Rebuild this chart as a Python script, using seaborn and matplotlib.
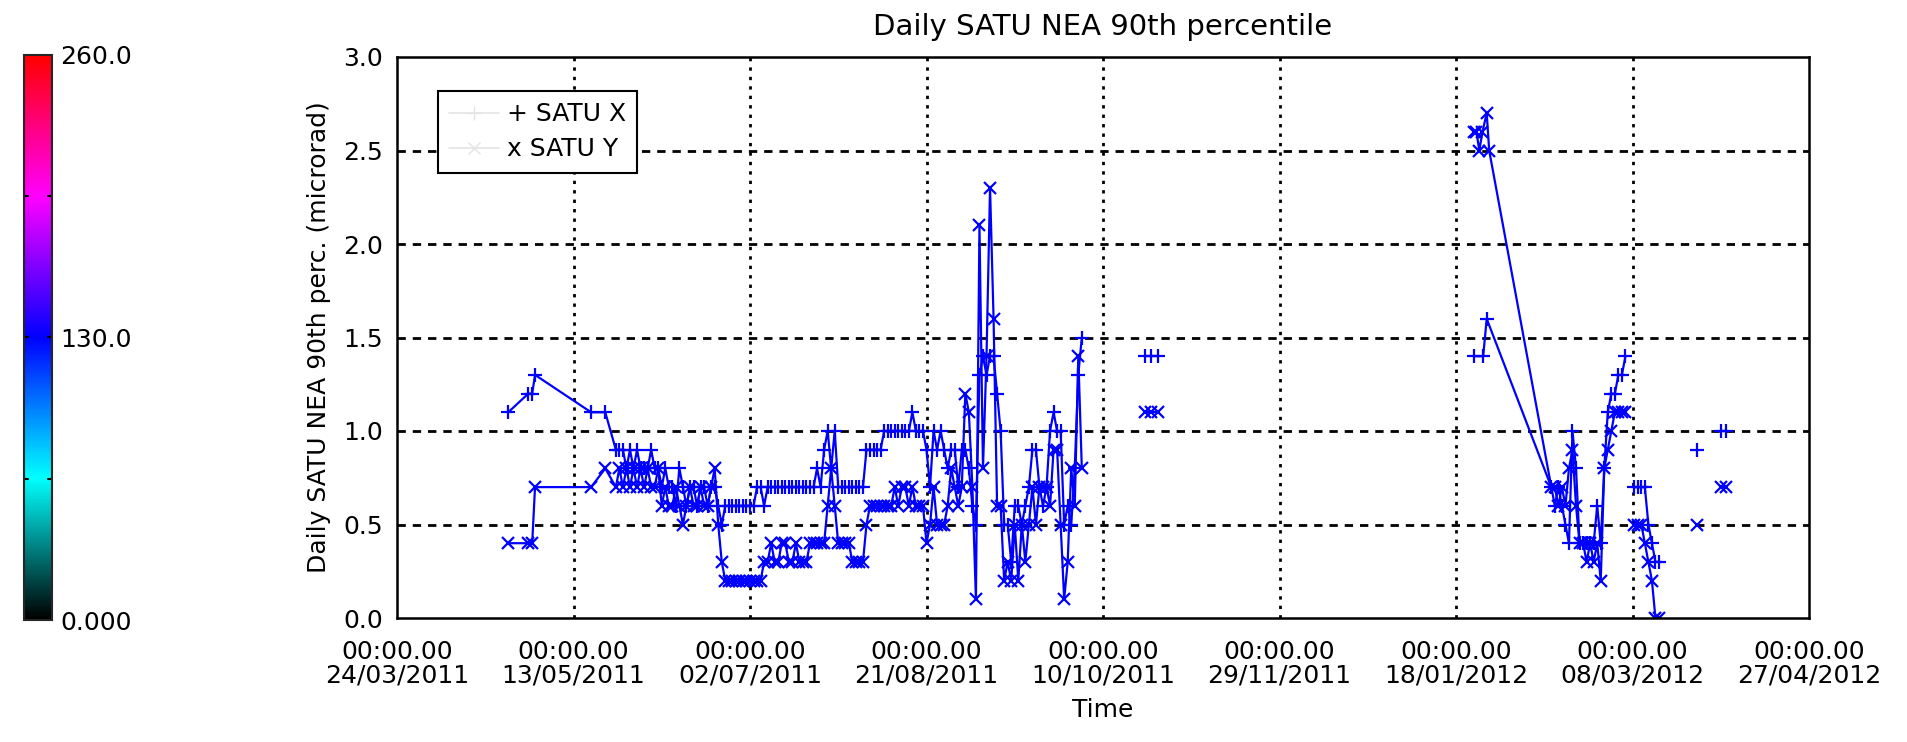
import numpy as np
import pandas as pd
import matplotlib
matplotlib.use("Agg")
import matplotlib.pyplot as plt
import seaborn as sns
from matplotlib.colors import LinearSegmentedColormap, Normalize
from matplotlib.colorbar import ColorbarBase
from matplotlib.lines import Line2D

# ---------------- data ----------------
start_date = "2011-03-24"
tick_dates = ["2011-03-24", "2011-05-13", "2011-07-02", "2011-08-21", "2011-10-10",
              "2011-11-29", "2012-01-18", "2012-03-08", "2012-04-27"]
y_ticks = [0.0, 0.5, 1.0, 1.5, 2.0, 2.5, 3.0]
cbar_ticks = [0.0, 130.0, 260.0]
cbar_labels = ["0.000", "130.0", "260.0"]

# early sparse points (days since start)
early_days = [31.5, 37.2, 38.3, 39.1, 55.0, 59.0]
early_x = [1.1, 1.2, 1.2, 1.3, 1.1, 1.1]
early_y = [0.4, 0.4, 0.4, 0.7, 0.7, 0.8]

# daily values from day 62 to day 194
daily_first_day = 62
daily_x = [0.9, 0.9, 0.9, 0.8, 0.9, 0.8, 0.9, 0.8, 0.8, 0.8,
           0.9, 0.8, 0.8, 0.7, 0.8, 0.7, 0.7, 0.6, 0.8, 0.7,
           0.6, 0.7, 0.7, 0.6, 0.7, 0.7, 0.6, 0.7, 0.7, 0.6,
           0.5, 0.6, 0.6, 0.6, 0.6, 0.6, 0.6, 0.6, 0.6,
           0.6, 0.7, 0.7, 0.6, 0.7, 0.7, 0.7, 0.7, 0.7, 0.7,
           0.7, 0.7, 0.7, 0.7, 0.7, 0.7, 0.7, 0.7, 0.8, 0.7,
           0.9, 1.0, 0.8, 1.0, 0.7, 0.7, 0.7, 0.7, 0.7, 0.7,
           0.7, 0.7, 0.9, 0.9, 0.9, 0.9, 0.9, 1.0, 1.0, 1.0,
           1.0, 1.0, 1.0, 1.0, 1.0, 1.1, 1.0, 1.0, 1.0,
           0.9, 0.7, 1.0, 0.9, 1.0, 0.9, 0.8, 0.9, 0.9, 0.7,
           0.9, 0.9, 0.8, 0.6, 0.5, 1.3, 1.4, 1.3, 1.4, 1.4,
           1.2, 1.0, 0.5, 0.5, 0.3, 0.6, 0.6, 0.5, 0.6, 0.7,
           0.9, 0.9, 0.7, 0.6, 0.7, 1.0, 1.1, 1.0, 1.0, 0.5,
           0.6, 0.5, 0.8, 1.3, 1.5]
daily_y = [0.7, 0.8, 0.7, 0.8, 0.7, 0.8, 0.7, 0.8, 0.7, 0.8,
           0.7, 0.7, 0.8, 0.6, 0.7, 0.6, 0.6, 0.7, 0.6, 0.5,
           0.6, 0.7, 0.6, 0.6, 0.7, 0.6, 0.6, 0.7, 0.8, 0.5,
           0.3, 0.2, 0.2, 0.2, 0.2, 0.2, 0.2, 0.2, 0.2,
           0.2, 0.2, 0.2, 0.3, 0.3, 0.4, 0.3, 0.3, 0.4, 0.4,
           0.3, 0.3, 0.4, 0.3, 0.3, 0.3, 0.4, 0.4, 0.4, 0.4,
           0.4, 0.6, 0.8, 0.6, 0.4, 0.4, 0.4, 0.4, 0.3, 0.3,
           0.3, 0.3, 0.5, 0.6, 0.6, 0.6, 0.6, 0.6, 0.6, 0.6,
           0.7, 0.6, 0.7, 0.7, 0.6, 0.7, 0.6, 0.6, 0.6,
           0.4, 0.5, 0.7, 0.5, 0.5, 0.5, 0.6, 0.8, 0.7, 0.6,
           0.7, 1.2, 1.1, 0.7, 0.1, 2.1, 0.8, 1.4, 2.3, 1.6,
           0.6, 0.6, 0.2, 0.3, 0.2, 0.5, 0.2, 0.5, 0.3, 0.5,
           0.7, 0.5, 0.7, 0.7, 0.7, 0.6, 0.9, 0.9, 0.5, 0.1,
           0.3, 0.8, 0.6, 1.4, 0.8]

# isolated October points
oct_days = [212.0, 213.5, 215.5]
oct_x = [1.4, 1.4, 1.4]
oct_y = [1.1, 1.1, 1.1]

# January points followed by the March cluster (connected)
jan_days_x = [305.0, 307.7, 308.7]
jan_x = [1.4, 1.4, 1.6]
jan_days_y = [305.0, 305.8, 306.6, 307.5, 308.7, 309.4]
jan_y = [2.6, 2.6, 2.5, 2.6, 2.7, 2.5]
mar_first_day = 327
mar_x = [0.7, 0.6, 0.7, 0.6, 0.5, 0.4, 1.0, 0.8, 0.4, 0.4, 0.4, 0.4,
         0.4, 0.6, 0.4, 0.8, 1.1, 1.2, 1.2, 1.3, 1.3, 1.4]
mar_y = [0.7, 0.7, 0.6, 0.7, 0.6, 0.8, 0.9, 0.6, 0.4, 0.4, 0.3, 0.4,
         0.3, 0.4, 0.2, 0.8, 0.9, 1.0, 1.1, 1.1, 1.1, 1.1]

# points after 08/03/2012
late_days = [350.5, 351.5, 352.5, 353.5, 354.5, 355.5, 356.5, 357.5]
late_x = [0.7, 0.7, 0.7, 0.7, 0.5, 0.4, 0.3, 0.3]
late_y = [0.5, 0.5, 0.5, 0.4, 0.3, 0.2, 0.0, 0.0]

# isolated April points
apr1_days = [368.2]
apr1_x = [0.9]
apr1_y = [0.5]
apr2_days = [375.0, 376.6]
apr2_x = [1.0, 1.0]
apr2_y = [0.7, 0.7]

# ---------------- assemble ----------------
start = pd.Timestamp(start_date)
daily_days = list(np.arange(daily_first_day, daily_first_day + len(daily_x)))
mar_days = list(np.arange(mar_first_day, mar_first_day + len(mar_x)))

segments_x = [
    (early_days + daily_days, early_x + daily_x),
    (oct_days, oct_x),
    (jan_days_x + mar_days, jan_x + mar_x),
    (late_days, late_x),
    (apr1_days, apr1_x),
    (apr2_days, apr2_x),
]
segments_y = [
    (early_days + daily_days, early_y + daily_y),
    (oct_days, oct_y),
    (jan_days_y + mar_days, jan_y + mar_y),
    (late_days, late_y),
    (apr1_days, apr1_y),
    (apr2_days, apr2_y),
]

def to_frame(segs):
    rows = []
    for sid, (d, v) in enumerate(segs):
        for dd, vv in zip(d, v):
            rows.append({"date": start + pd.to_timedelta(float(dd), unit="D"),
                         "value": vv, "segment": sid})
    return pd.DataFrame(rows)

df_x = to_frame(segments_x)
df_y = to_frame(segments_y)

# ---------------- style ----------------
sns.set_theme(style="white")
plt.rcParams["font.family"] = ["DejaVu Sans"]
for key in ["text.color", "axes.labelcolor", "xtick.color", "ytick.color"]:
    plt.rcParams[key] = "black"

W, H = 1907, 742
fig = plt.figure(figsize=(W / 100, H / 100), dpi=100)
ax = fig.add_axes([397 / W, 1 - 618 / H, (1809 - 397) / W, (618 - 57) / H])

blue = "#0000ff"
sns.lineplot(data=df_x, x="date", y="value", units="segment", estimator=None,
             sort=False, color=blue, lw=1.6, marker="+", markersize=10,
             markeredgewidth=1.6, markeredgecolor=blue, ax=ax, legend=False)
sns.lineplot(data=df_y, x="date", y="value", units="segment", estimator=None,
             sort=False, color=blue, lw=1.6, marker="x", markersize=8,
             markeredgewidth=1.6, markeredgecolor=blue, ax=ax, legend=False)

tick_ts = [pd.Timestamp(t) for t in tick_dates]
ax.set_xlim(tick_ts[0], tick_ts[-1])
ax.set_ylim(0, 3.0)
ax.set_xticks(tick_ts)
ax.set_xticklabels(["00:00.00\n" + t.strftime("%d/%m/%Y") for t in tick_ts],
                   fontsize=18, linespacing=0.95)
ax.set_yticks(y_ticks)
ax.set_yticklabels([f"{v:.1f}" for v in y_ticks], fontsize=18)
ax.tick_params(axis="both", length=0)
ax.tick_params(axis="x", pad=16)
ax.tick_params(axis="y", pad=10)

for t in tick_ts[1:-1]:
    ax.axvline(t, color="black", lw=2.0, ls=(0, (1.2, 2.2)), zorder=0.5)
for v in y_ticks[1:-1]:
    ax.axhline(v, color="black", lw=2.0, ls=(0, (3.0, 2.5)), zorder=0.5)

for s in ax.spines.values():
    s.set_color("black")
    s.set_linewidth(1.8)

ax.set_title("Daily SATU NEA 90th percentile", fontsize=21, pad=16)
ax.set_ylabel("Daily SATU NEA 90th perc. (microrad)", fontsize=18, labelpad=9)
ax.set_xlabel("Time", fontsize=18, labelpad=8)

# legend
handles = [
    Line2D([], [], color="#e4e4e4", lw=1.2, marker="+", markersize=10, markeredgecolor="#e4e4e4"),
    Line2D([], [], color="#e4e4e4", lw=1.2, marker="x", markersize=8, markeredgecolor="#e4e4e4"),
]
leg = ax.legend(handles, ["+ SATU X", "x SATU Y"], loc="upper left",
                bbox_to_anchor=((438 - 397) / (1809 - 397), (618 - 91) / (618 - 57)),
                frameon=True, fancybox=False, fontsize=18, handlelength=2.0,
                handletextpad=0.3, borderpad=0.45, labelspacing=0.45, borderaxespad=0)
leg.get_frame().set_edgecolor("black")
leg.get_frame().set_linewidth(1.5)
leg.get_frame().set_alpha(1)

# colour bar
cmap = LinearSegmentedColormap.from_list(
    "idl", [(0.0, "#000000"), (0.25, "#00ffff"), (0.5, "#0000ff"),
            (0.75, "#ff00ff"), (1.0, "#ff0000")])
cax = fig.add_axes([24 / W, 1 - 620 / H, 28 / W, (620 - 55) / H])
cb = ColorbarBase(cax, cmap=cmap, norm=Normalize(0, 260), orientation="vertical")
cb.set_ticks(cbar_ticks)
cb.set_ticklabels(cbar_labels)
cb.outline.set_linewidth(1.5)
cax.tick_params(labelsize=18, length=0, pad=6)
for v in [65, 130, 195]:
    cax.plot([0, 0.15], [v, v], color="black", lw=1.5, transform=cax.get_yaxis_transform())
    cax.plot([0.85, 1.0], [v, v], color="black", lw=1.5, transform=cax.get_yaxis_transform())

fig.savefig("out.png", dpi=100)
